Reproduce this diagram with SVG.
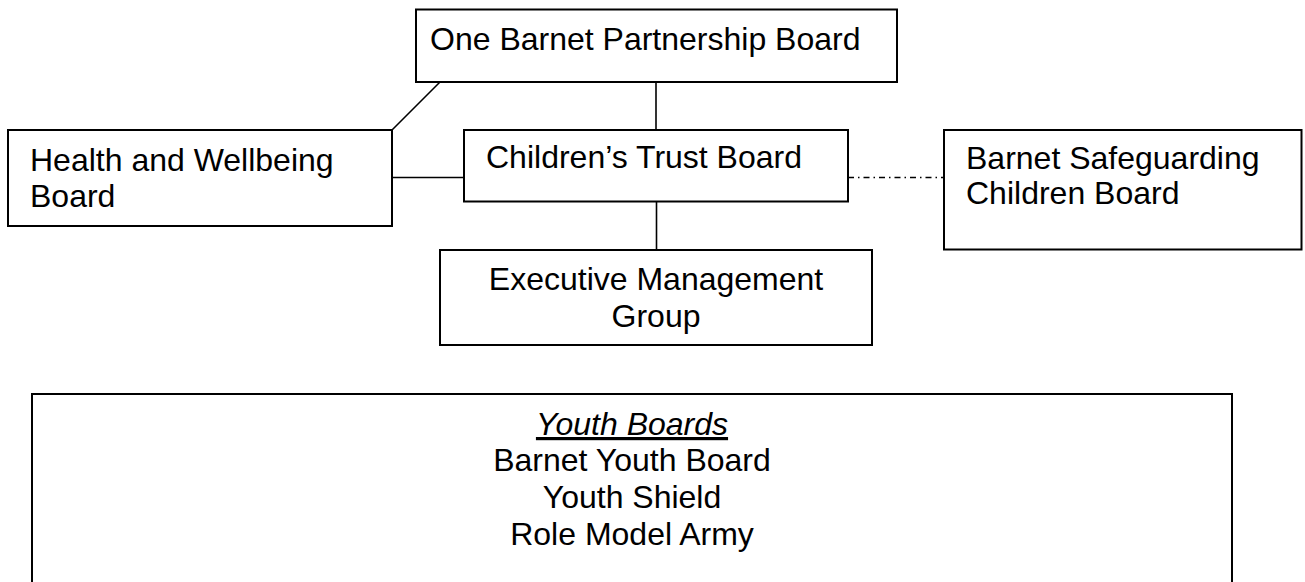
<svg xmlns="http://www.w3.org/2000/svg" width="1305" height="582" viewBox="0 0 1305 582">
  <style>
    .box { fill: #ffffff; stroke: #000000; stroke-width: 2; }
    .link { fill: none; stroke: #000000; stroke-width: 1.6; }
    .dashdot { stroke-dasharray: 6 4 1.5 4; }
    .label { font-family: "Liberation Sans", Arial, sans-serif; font-size: 32px; fill: #000000; }
    .mid { text-anchor: middle; }
    .heading { font-style: italic; text-decoration: underline; }
  </style>
  <rect width="1305" height="582" fill="#ffffff"/>

  <!-- connectors -->
  <g id="connectors">
    <line class="link" x1="656" y1="82" x2="656" y2="130"/>
    <line class="link" x1="440" y1="82" x2="392" y2="130"/>
    <line class="link" x1="392" y1="177.5" x2="464" y2="177.5"/>
    <line class="link" x1="656.5" y1="202" x2="656.5" y2="250"/>
    <line class="link dashdot" x1="848" y1="177.5" x2="944" y2="177.5"/>
  </g>

  <g id="one-barnet-partnership-board">
    <rect class="box" x="416" y="9.5" width="481" height="72.5"/>
    <text class="label" x="430" y="50">One Barnet Partnership Board</text>
  </g>

  <g id="health-and-wellbeing-board">
    <rect class="box" x="8" y="130" width="384" height="96"/>
    <text class="label" x="30" y="171">Health and Wellbeing</text>
    <text class="label" x="30" y="207">Board</text>
  </g>

  <g id="childrens-trust-board">
    <rect class="box" x="464" y="130" width="384" height="71.5"/>
    <text class="label" x="486" y="168">Children’s Trust Board</text>
  </g>

  <g id="barnet-safeguarding-children-board">
    <rect class="box" x="944" y="130" width="357.5" height="119.5"/>
    <text class="label" x="966" y="169">Barnet Safeguarding</text>
    <text class="label" x="966" y="204">Children Board</text>
  </g>

  <g id="executive-management-group">
    <rect class="box" x="440" y="250" width="432" height="95"/>
    <text class="label mid" x="656" y="290">Executive Management</text>
    <text class="label mid" x="656" y="327">Group</text>
  </g>

  <g id="youth-boards">
    <rect class="box" x="32" y="394" width="1200" height="210"/>
    <text class="label mid heading" x="632" y="435">Youth Boards</text>
    <text class="label mid" x="632" y="471">Barnet Youth Board</text>
    <text class="label mid" x="632" y="508">Youth Shield</text>
    <text class="label mid" x="632" y="545">Role Model Army</text>
  </g>
</svg>
